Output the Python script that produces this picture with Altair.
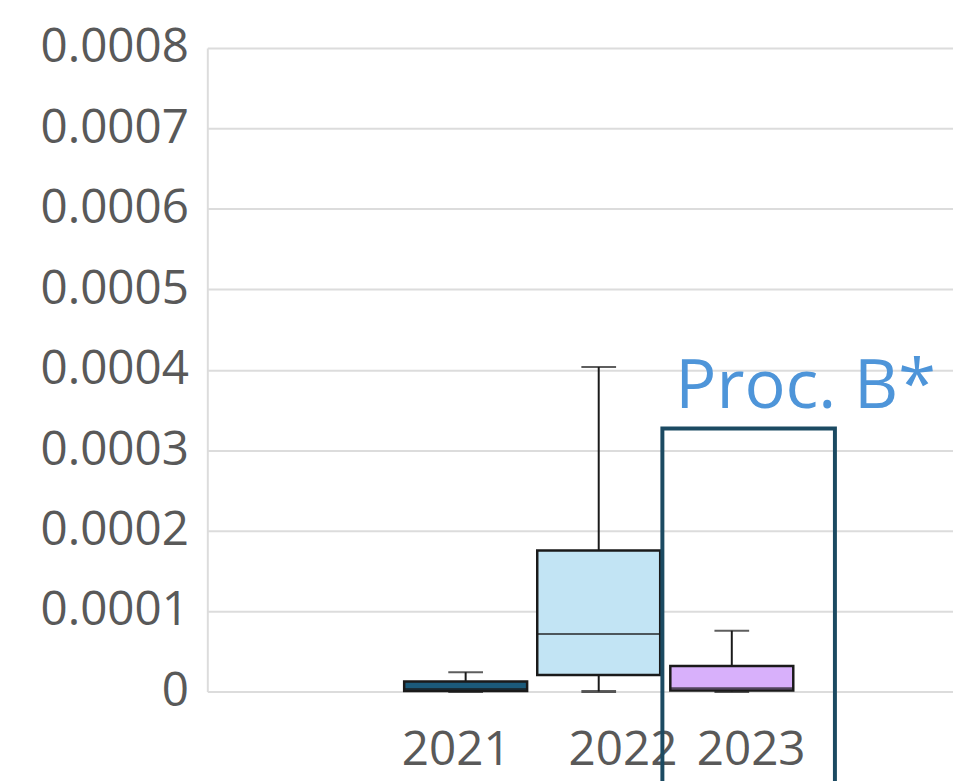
import altair as alt
import pandas as pd

# ---- data ----
years = [2021, 2022, 2023]
mins = [0.0, 0.0, 0.0]
q1s = [0.0000005, 0.0000206, 0.0000012]
medians = [0.000003, 0.0000715, 0.000004]
q3s = [0.0000125, 0.0001754, 0.0000318]
maxs = [0.0000240, 0.0004035, 0.0000755]
box_colors = ["#1b5a7a", "#c2e4f4", "#d8b0fb"]

highlight_year = [2023]
highlight_top = [0.000327]
highlight_label = ["Proc. B*"]

y_ticks = [0.0, 0.0001, 0.0002, 0.0003, 0.0004, 0.0005, 0.0006, 0.0007, 0.0008]

df = pd.DataFrame({
    "year": years, "min": mins, "q1": q1s, "median": medians,
    "q3": q3s, "max": maxs,
})
df["yearcat"] = df["year"].astype(str)
ann = pd.DataFrame({"year": highlight_year, "top": highlight_top, "label": highlight_label})

FONT = "Open Sans"
GRAY = "#595959"
GRID = "#dcdcdc"
INK = "#1a1a1a"

xscale = alt.Scale(domain=[2019.096, 2024.625], nice=False, zero=False)
yscale = alt.Scale(domain=[0, 0.0008], nice=False)

xaxis = alt.Axis(values=years, format="d", title=None, grid=False, ticks=False,
                 domain=False, labelFont=FONT, labelFontSize=48, labelColor=GRAY,
                 labelPadding=36,
                 labelOffset={"condition": [{"test": "datum.value == 2022", "value": 24},
                                            {"test": "datum.value == 2023", "value": 19}],
                              "value": -10})
yaxis = alt.Axis(values=y_ticks, format=".4~f", title=None, grid=True, gridColor=GRID,
                 gridWidth=2, ticks=False, domain=True, domainColor=GRID, domainWidth=2,
                 labelFont=FONT, labelFontSize=48, labelColor=GRAY, labelPadding=19)

base = alt.Chart(df)

whisker = base.mark_rule(color=INK, strokeWidth=2).encode(
    x=alt.X("year:Q", scale=xscale, axis=xaxis),
    y=alt.Y("min:Q", scale=yscale, axis=yaxis),
    y2="max:Q",
)
cap_low = base.mark_tick(orient="horizontal", size=35, thickness=3, color=INK).encode(
    x=alt.X("year:Q", scale=xscale), y=alt.Y("min:Q", scale=yscale))
cap_high = base.mark_tick(orient="horizontal", size=35, thickness=2, color=INK).encode(
    x=alt.X("year:Q", scale=xscale), y=alt.Y("max:Q", scale=yscale))
box = base.mark_bar(size=124, stroke=INK, strokeWidth=2.5).encode(
    x=alt.X("year:Q", scale=xscale),
    y=alt.Y("q1:Q", scale=yscale),
    y2="q3:Q",
    fill=alt.Fill("yearcat:N", scale=alt.Scale(domain=[str(y) for y in years], range=box_colors),
                  legend=None),
)
median = base.mark_tick(orient="horizontal", size=124, thickness=2, color=INK).encode(
    x=alt.X("year:Q", scale=xscale), y=alt.Y("median:Q", scale=yscale))

hl = alt.Chart(ann).mark_rect(xOffset=-70, x2Offset=104, fill="transparent",
                              stroke="#1b4a62", strokeWidth=4).encode(
    x=alt.X("year:Q", scale=xscale),
    x2="year:Q",
    y=alt.Y("top:Q", scale=yscale),
    y2=alt.value(800),
)
hl_text = alt.Chart(ann).mark_text(align="left", baseline="alphabetic", dx=-57, dy=-21,
                                   font=FONT, fontSize=69, color="#4e95d9").encode(
    x=alt.X("year:Q", scale=xscale),
    y=alt.Y("top:Q", scale=yscale),
    text="label:N",
)

chart = alt.layer(whisker, cap_low, cap_high, box, median, hl, hl_text).properties(
    width=752, height=649,
    padding={"left": 201, "top": 37, "right": 0, "bottom": 87},
    autosize=alt.AutoSizeParams(type="none"),
).configure_view(stroke=None)

chart.save("out.html", embed_options={"renderer": "svg", "actions": False})
